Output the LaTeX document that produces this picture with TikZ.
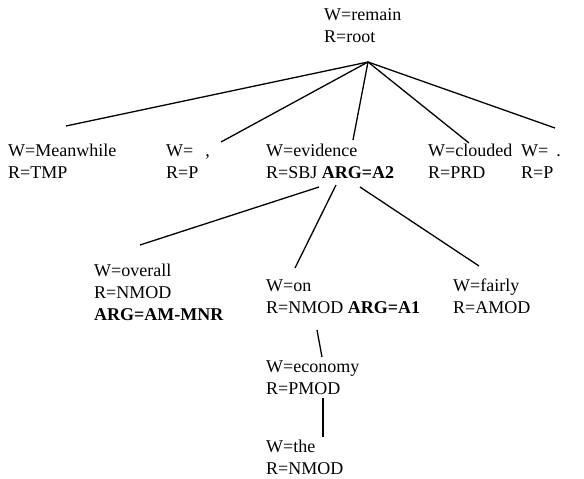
\documentclass[tikz,border=0pt]{standalone}
\usepackage{fontspec}
\setmainfont{Liberation Serif}
\begin{document}
\begin{tikzpicture}[x=1pt,y=-1pt,
  lbl/.style={anchor=north west, inner sep=0pt, align=left, font=\fontsize{18}{22}\selectfont},
  edge/.style={line width=1.3pt}]
\useasboundingbox[fill=white] (0,0) rectangle (584,479);
% nodes (top = first baseline - 15.4)
\node[lbl] (root) at (324,4.6) {\strut W=remain\\R=root};
\node[lbl] (mean) at (8,140.6) {\strut W=Meanwhile\\R=TMP};
\node[lbl] (comma) at (166,140.6) {\strut W=\hspace{12pt},\\R=P};
\node[lbl] (evid) at (266,140.6) {\strut W=evidence\\R=SBJ \textbf{ARG=A2}};
\node[lbl] (cloud) at (428,140.6) {\strut W=clouded\\R=PRD};
\node[lbl] (period) at (521,140.6) {\strut W=\hspace{8pt}.\\R=P};
\node[lbl] (overall) at (94,260.6) {\strut W=overall\\R=NMOD\\\textbf{ARG=AM-MNR}};
\node[lbl] (on) at (266,275.6) {\strut W=on\\R=NMOD \textbf{ARG=A1}};
\node[lbl] (fairly) at (453,275.6) {\strut W=fairly\\R=AMOD};
\node[lbl] (econ) at (266,356.6) {\strut W=economy\\R=PMOD};
\node[lbl] (the) at (266,436.6) {\strut W=the\\R=NMOD};
% connector end points
\coordinate (root-b) at (368,62);
\coordinate (mean-t) at (66,126);
\coordinate (comma-t) at (221,142);
\coordinate (evid-t) at (353,140);
\coordinate (cloud-t) at (469,143);
\coordinate (period-t) at (555,128);
\coordinate (evid-b1) at (319,187);
\coordinate (evid-b2) at (336,185);
\coordinate (evid-b3) at (360,187);
\coordinate (overall-t) at (140,245);
\coordinate (on-t) at (295,268);
\coordinate (fairly-t) at (479,266);
\coordinate (on-b) at (317,330);
\coordinate (econ-t) at (322,357);
\coordinate (econ-b) at (323,398);
\coordinate (the-t) at (323,437);
% connectors
\draw[edge] (root-b) -- (mean-t);
\draw[edge] (root-b) -- (comma-t);
\draw[edge] (root-b) -- (evid-t);
\draw[edge] (root-b) -- (cloud-t);
\draw[edge] (root-b) -- (period-t);
\draw[edge] (evid-b1) -- (overall-t);
\draw[edge] (evid-b2) -- (on-t);
\draw[edge] (evid-b3) -- (fairly-t);
\draw[edge] (on-b) -- (econ-t);
\draw[edge] (econ-b) -- (the-t);
\end{tikzpicture}
\end{document}
